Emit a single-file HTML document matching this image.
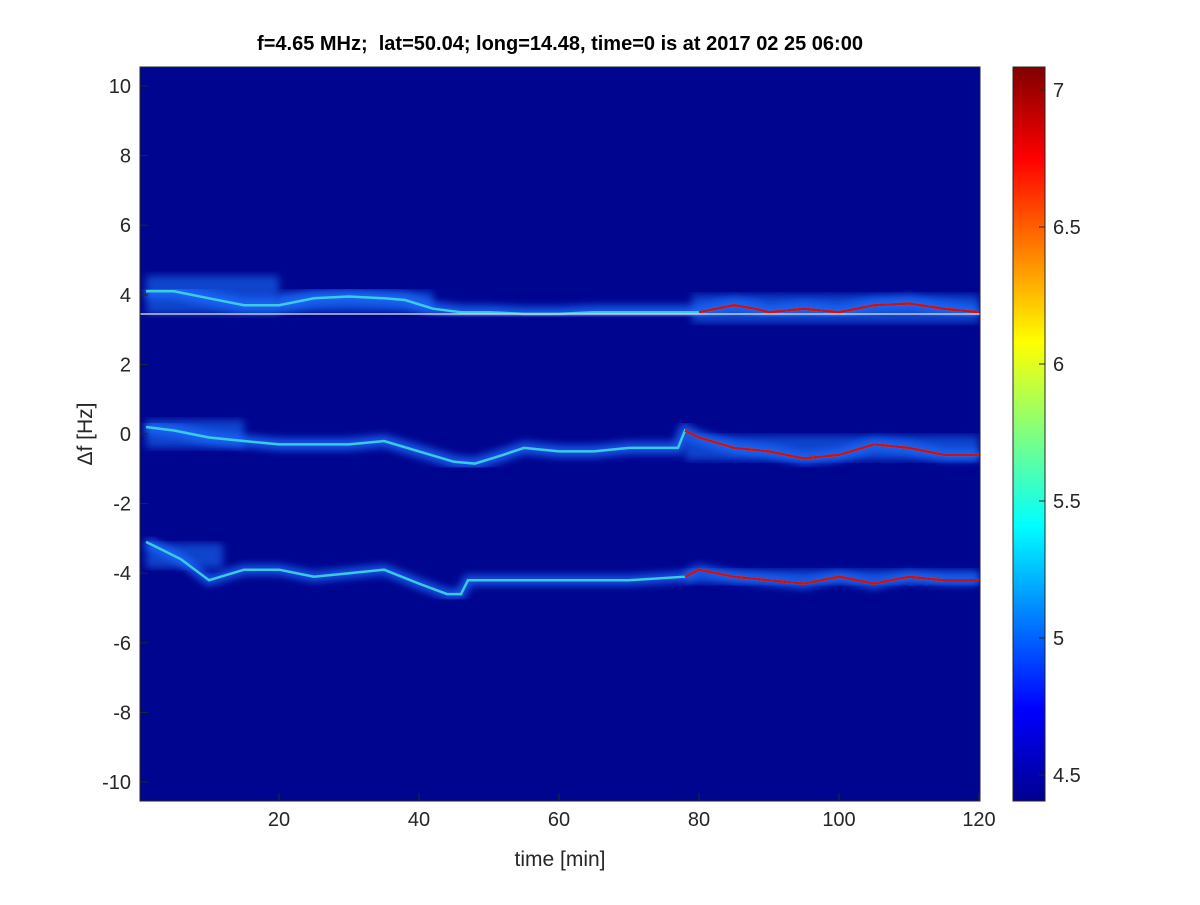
<!DOCTYPE html>
<html><head><meta charset="utf-8"><style>
body{margin:0;background:#fff;font-family:"Liberation Sans",sans-serif}
svg text{font-family:"Liberation Sans",sans-serif}
</style></head><body>
<svg id="chart" width="1200" height="900" viewBox="0 0 1200 900" xmlns="http://www.w3.org/2000/svg">
<defs>
<linearGradient id="jet" x1="0" y1="1" x2="0" y2="0">
<stop offset="0" stop-color="#00008f"/><stop offset="0.125" stop-color="#0000ff"/><stop offset="0.375" stop-color="#00ffff"/><stop offset="0.625" stop-color="#ffff00"/><stop offset="0.875" stop-color="#ff0000"/><stop offset="1" stop-color="#800000"/>
</linearGradient>
<filter id="blur"><feGaussianBlur stdDeviation="4"/></filter>
<clipPath id="clip"><rect x="140" y="67" width="840" height="734"/></clipPath>
</defs>
<text x="560" y="50" text-anchor="middle" font-size="20" font-weight="bold">f=4.65 MHz;&#160; lat=50.04; long=14.48, time=0 is at 2017 02 25 06:00</text>
<rect x="140" y="67" width="840" height="734" fill="#00058f"/>
<g id="marks" clip-path="url(#clip)"></g>
<rect x="140" y="67" width="840" height="734" fill="none" stroke="#262626" stroke-width="1"/>
<g id="axes"></g>
<text x="560" y="866" text-anchor="middle" font-size="21" fill="#262626">time [min]</text>
<text transform="translate(92,434) rotate(-90)" text-anchor="middle" font-size="21" fill="#262626">Δf [Hz]</text>
<rect x="1013" y="67" width="32" height="734" fill="url(#jet)" stroke="#262626" stroke-width="1"/>
<g id="cbaxis"></g>
</svg>
<script>
const xTicks=[20,40,60,80,100,120];
const yTicks=[10,8,6,4,2,0,-2,-4,-6,-8,-10];
const cTicks=[7,6.5,6,5.5,5,4.5];
const baseLineFreq=3.45;
const topTimes=[1,5,10,15,20,25,30,35,38,42,46,50,55,60,65,70,75,80,85,88,90,95,100,105,110,115,120];
const topFreq=[4.1,4.1,3.9,3.7,3.7,3.9,3.95,3.9,3.85,3.6,3.5,3.5,3.45,3.45,3.5,3.5,3.5,3.5,3.7,3.6,3.5,3.6,3.5,3.7,3.75,3.6,3.5];
const midTimes=[1,5,10,15,20,25,30,35,40,45,48,52,55,60,65,70,75,77,78,80,85,90,95,100,105,110,115,120];
const midFreq=[0.2,0.1,-0.1,-0.2,-0.3,-0.3,-0.3,-0.2,-0.5,-0.8,-0.85,-0.6,-0.4,-0.5,-0.5,-0.4,-0.4,-0.4,0.1,-0.1,-0.4,-0.5,-0.7,-0.6,-0.3,-0.4,-0.6,-0.6];
const botTimes=[1,3,6,10,15,20,25,30,35,40,44,46,47,50,55,60,70,78,80,85,90,95,100,105,110,115,120];
const botFreq=[-3.1,-3.3,-3.6,-4.2,-3.9,-3.9,-4.1,-4.0,-3.9,-4.3,-4.6,-4.6,-4.2,-4.2,-4.2,-4.2,-4.2,-4.1,-3.9,-4.1,-4.2,-4.3,-4.1,-4.3,-4.1,-4.2,-4.2];
// noisy regions: [start min, end min, center freq, half-width Hz]
const noiseStart=[1,20,79,1,78,1,78];
const noiseEnd=[20,42,120,15,120,12,120];
const noiseCenter=[4.0,3.8,3.6,0.0,-0.4,-3.5,-4.1];
const noiseHalf=[0.55,0.3,0.4,0.4,0.35,0.35,0.2];
const X=t=>139+t*7, Y=f=>434-f*34.8, C=v=>90+(7-v)*274;
const NS="http://www.w3.org/2000/svg";
function mk(tag,attrs,parent){const e=document.createElementNS(NS,tag);for(const k in attrs)e.setAttribute(k,attrs[k]);parent.appendChild(e);return e;}
const marks=document.getElementById('marks'),axes=document.getElementById('axes'),cb=document.getElementById('cbaxis');
function pts(ts,fs){return ts.map((t,i)=>X(t).toFixed(1)+','+Y(fs[i]).toFixed(1)).join(' ');}
noiseStart.forEach((s,i)=>{
  let r=mk('rect',{x:X(s),y:Y(noiseCenter[i]+noiseHalf[i]),width:X(noiseEnd[i])-X(s),height:noiseHalf[i]*2*34.8,fill:'#1a78ff',opacity:0.55,filter:'url(#blur)'},marks);
  
  
});
const bands=[['top',topTimes,topFreq,14],['middle',midTimes,midFreq,12],['bottom',botTimes,botFreq,10]];
bands.forEach(([n,ts,fs,w])=>{
  let h=mk('polyline',{points:pts(ts,fs),fill:'none',stroke:'#1c6cff','stroke-width':w,filter:'url(#blur)',opacity:0.8},marks);
  
  
  let m=mk('polyline',{points:pts(ts,fs),fill:'none',stroke:'#40d8e0','stroke-width':2.5,opacity:0.9},marks);
  
  
  let ts2=ts.filter(t=>t>=78),fs2=fs.slice(ts.length-ts2.length);
  let r=mk('polyline',{points:pts(ts2,fs2),fill:'none',stroke:'#d01010','stroke-width':2.5},marks);
  
  
});
let bl=mk('line',{x1:140,x2:980,y1:Y(baseLineFreq),y2:Y(baseLineFreq),stroke:'#c8c8d8','stroke-width':1.5},marks);


xTicks.forEach(t=>{
  mk('line',{x1:X(t),x2:X(t),y1:801,y2:793,stroke:'#262626'},axes);
  let l=mk('text',{x:X(t),y:826,'text-anchor':'middle','font-size':20,fill:'#262626'},axes);l.textContent=t;
  
  
});
yTicks.forEach(f=>{
  mk('line',{x1:140,x2:148,y1:Y(f),y2:Y(f),stroke:'#262626'},axes);
  let l=mk('text',{x:131,y:Y(f)+7,'text-anchor':'end','font-size':20,fill:'#262626'},axes);l.textContent=f;
  
  
});
cTicks.forEach(v=>{
  mk('line',{x1:1045,x2:1039,y1:C(v),y2:C(v),stroke:'#262626'},cb);
  let l=mk('text',{x:1053,y:C(v)+7,'font-size':20,fill:'#262626'},cb);l.textContent=v;
  
  
});
</script>
</body></html>
